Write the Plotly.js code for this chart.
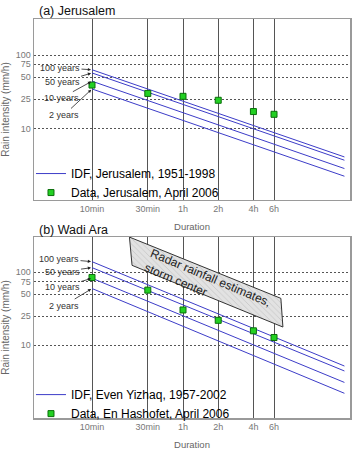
<!DOCTYPE html>
<html>
<head>
<meta charset="utf-8">
<script src="https://cdn.plot.ly/plotly-3.0.1.min.js"></script>
<style>
  html, body { margin: 0; padding: 0; background: #fff; }
  #chart { width: 354px; height: 450px; }
</style>
</head>
<body>
<div id="chart"></div>
<script>
// Durations (minutes) of the observed maxima, with their axis labels
const durations = [10, 30, 60, 120, 240, 360];
const durationLabels = ['10min', '30min', '1h', '2h', '4h', '6h'];
// IDF curves are straight on log-log axes: given at 10 min and 24 h
const idfDurations = [10, 1440];
const intensityTicks = [10, 25, 50, 75, 100];
const returnPeriods = ['100 years', '50 years', '10 years', '2 years'];

// (a) Jerusalem: IDF 1951-1998 and April 2006 observations (mm/h)
const jerIdf100 = [63, 4.1];
const jerIdf50 = [57, 3.7];
const jerIdf10 = [44, 2.85];
const jerIdf2 = [34.5, 2.24];
const jerData = [39, 30, 27.4, 24.2, 17, 15.6];

// (b) Wadi Ara: IDF Even Yizhaq 1957-2002, En Hashofet April 2006 (mm/h)
const eyIdf100 = [140, 5.2];
const eyIdf50 = [116, 4.45];
const eyIdf10 = [83, 3.1];
const eyIdf2 = [60, 2.2];
const ehData = [85, 57, 30.5, 22, 15.8, 12.8];

// Radar rainfall estimates at the storm center (duration min, intensity mm/h)
const radarDur = [20.9, 412, 429, 22];
const radarInt = [304, 44, 17.8, 124.7];

const IDF_COLOR = '#3c3cc8';
const FONT = 'Liberation Sans, Arial, sans-serif';

function idfTrace(curves, name, xa, ya, legend) {
  const x = [], y = [];
  curves.forEach((c, i) => {
    if (i > 0) { x.push(null); y.push(null); }
    idfDurations.forEach((d, j) => { x.push(d); y.push(c[j]); });
  });
  return {
    type: 'scatter', mode: 'lines', name, x, y, xaxis: xa, yaxis: ya,
    legend, connectgaps: false,
    line: { color: IDF_COLOR, width: 1 }, hoverinfo: 'skip'
  };
}

function dataTrace(values, name, xa, ya, legend) {
  return {
    type: 'scatter', mode: 'markers', name, x: durations, y: values,
    xaxis: xa, yaxis: ya, legend,
    marker: { symbol: 'square', size: 6, color: '#22d022',
              line: { color: '#0b6e0b', width: 1 } }
  };
}

const radarTrace = {
  type: 'scatter', mode: 'lines', xaxis: 'x2', yaxis: 'y2',
  x: radarDur.concat([radarDur[0]]), y: radarInt.concat([radarInt[0]]),
  fill: 'toself', fillcolor: '#e2e2e2',
  fillpattern: { shape: '\\', fgcolor: '#bdbdbd', bgcolor: '#e2e2e2', size: 4, solidity: 0.15 },
  line: { color: '#333', width: 1 }, showlegend: false, hoverinfo: 'skip'
};

const traces = [
  idfTrace([jerIdf100, jerIdf50, jerIdf10, jerIdf2], 'IDF, Jerusalem, 1951-1998', 'x', 'y', 'legend'),
  dataTrace(jerData, 'Data, Jerusalem, April 2006', 'x', 'y', 'legend'),
  radarTrace,
  idfTrace([eyIdf100, eyIdf50, eyIdf10, eyIdf2], 'IDF, Even Yizhaq, 1957-2002', 'x2', 'y2', 'legend2'),
  dataTrace(ehData, 'Data, En Hashofet, April 2006', 'x2', 'y2', 'legend2')
];

function xAxis(anchor) {
  return {
    anchor, domain: [0, 1], type: 'log', range: [0.504, 3.206],
    tickmode: 'array', tickvals: durations, ticktext: durationLabels,
    showgrid: true, gridcolor: '#555', gridwidth: 1,
    showline: true, mirror: true, linecolor: '#9a9a9a', linewidth: 1.5,
    ticks: '', zeroline: false, fixedrange: true,
    tickfont: { size: 9, color: '#777' },
    title: { text: 'Duration', font: { size: 9.5, color: '#666' }, standoff: 10 }
  };
}

function yAxis(anchor, domain, range) {
  return {
    anchor, domain, type: 'log', range,
    tickmode: 'array', tickvals: intensityTicks, ticktext: intensityTicks.map(String),
    showgrid: true, gridcolor: '#555', gridwidth: 1, griddash: '2px,2px',
    showline: true, mirror: true, linecolor: '#9a9a9a', linewidth: 1.5,
    ticks: '', zeroline: false, fixedrange: true,
    tickfont: { size: 9, color: '#777' },
    title: { text: 'Rain intensity (mm/h)', font: { size: 10, color: '#666' }, standoff: 4 }
  };
}

// Return-period labels with arrows pointing at the start of each IDF curve
const arrowStyle = { showarrow: true, arrowhead: 2, arrowsize: 0.8, arrowwidth: 0.8,
                     arrowcolor: '#222', standoff: 1, font: { size: 9, color: '#333' } };
const jerOffsets = [[-32, -2], [-30, 9], [-31, 17], [-28, 26]];
const eyOffsets = [[-33, -3], [-30, 4], [-30, 9], [-28, 17]];
const jerCurves = [jerIdf100, jerIdf50, jerIdf10, jerIdf2];
const eyCurves = [eyIdf100, eyIdf50, eyIdf10, eyIdf2];

const annotations = [];
returnPeriods.forEach((label, i) => {
  annotations.push(Object.assign({}, arrowStyle, {
    xref: 'x', yref: 'y', x: Math.log10(idfDurations[0]), y: Math.log10(jerCurves[i][0]),
    ax: jerOffsets[i][0], ay: jerOffsets[i][1], text: label
  }));
  annotations.push(Object.assign({}, arrowStyle, {
    xref: 'x2', yref: 'y2', x: Math.log10(idfDurations[0]), y: Math.log10(eyCurves[i][0]),
    ax: eyOffsets[i][0], ay: eyOffsets[i][1], text: label
  }));
});

annotations.push(
  { xref: 'paper', yref: 'paper', x: 0.0095, y: 1.02, xanchor: 'left', yanchor: 'middle',
    showarrow: false, text: '(a) Jerusalem', font: { size: 12.5, color: '#111' } },
  { xref: 'paper', yref: 'paper', x: 0.0095, y: 0.4712, xanchor: 'left', yanchor: 'middle',
    showarrow: false, text: '(b) Wadi Ara', font: { size: 12.5, color: '#111' } },
  { xref: 'x2', yref: 'y2', x: 1.985, y: 1.83, showarrow: false, textangle: 23,
    align: 'left', text: 'Radar rainfall estimates,<br>storm center',
    font: { size: 12, color: '#222' } }
);

const legendStyle = {
  xanchor: 'left', yanchor: 'top', bgcolor: 'rgba(0,0,0,0)', borderwidth: 0,
  font: { size: 12, color: '#000' }, traceorder: 'normal'
};

const layout = {
  width: 354, height: 450,
  margin: { l: 34, r: 4, t: 19, b: 32 },
  paper_bgcolor: '#fff', plot_bgcolor: '#fff',
  font: { family: FONT, color: '#333' },
  showlegend: true,
  xaxis: xAxis('y'),
  yaxis: yAxis('x', [0.5464, 1], [0.027, 2.49]),
  xaxis2: xAxis('y2'),
  yaxis2: yAxis('x2', [0, 0.4536], [0.004, 2.484]),
  legend: Object.assign({ x: -0.0095, y: 0.649 }, legendStyle),
  legend2: Object.assign({ x: -0.0095, y: 0.095 }, legendStyle),
  annotations
};

Plotly.newPlot('chart', traces, layout, { displayModeBar: false, staticPlot: true });
</script>
</body>
</html>
